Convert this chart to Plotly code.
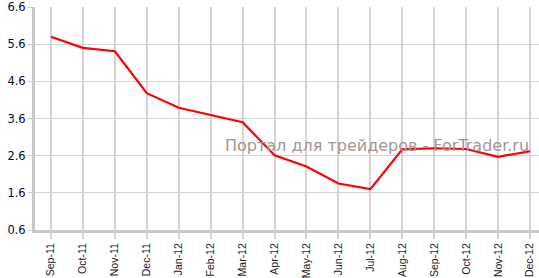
import plotly.graph_objects as go

months = ["Sep-11", "Oct-11", "Nov-11", "Dec-11", "Jan-12", "Feb-12", "Mar-12", "Apr-12",
          "May-12", "Jun-12", "Jul-12", "Aug-12", "Sep-12", "Oct-12", "Nov-12", "Dec-12"]
values = [5.80, 5.50, 5.41, 4.28, 3.89, 3.70, 3.50, 2.61,
          2.31, 1.85, 1.70, 2.77, 2.80, 2.78, 2.57, 2.72]
y_ticks = [0.6, 1.6, 2.6, 3.6, 4.6, 5.6, 6.6]
y_tick_text = ["0.6", "1.6", "2.6", "3.6", "4.6", "5.6", "6.6"]
watermark = "Портал для трейдеров - ForTrader.ru"

fig = go.Figure()
fig.add_trace(go.Scatter(x=list(range(len(months))), y=values, mode="lines",
                         line=dict(color="#ff0000", width=2.2), hoverinfo="skip"))

fig.update_layout(
    width=539, height=278,
    margin=dict(l=35, r=0, t=7, b=41),
    paper_bgcolor="white", plot_bgcolor="white",
    showlegend=False,
    xaxis=dict(
        range=[-0.5, 15.28],
        tickmode="array", tickvals=list(range(len(months))), ticktext=months,
        tickangle=-90, tickfont=dict(family="Liberation Sans, Arial", size=10.5, color="#1a1a1a"),
        showgrid=True, gridcolor="#d4d4d4", gridwidth=1.5,
        ticks="outside", ticklen=6, tickcolor="#d4d4d4", tickwidth=1.5,
        showline=True, linecolor="#c8c8c8", linewidth=3,
        zeroline=False, fixedrange=True,
    ),
    yaxis=dict(
        range=[0.6, 6.6],
        tickmode="array", tickvals=y_ticks, ticktext=y_tick_text,
        tickfont=dict(family="DejaVu Sans, Verdana", size=11.5, color="#0a0a2a"),
        showgrid=True, gridcolor="#d4d4d4", gridwidth=1,
        ticks="outside", ticklen=4, tickcolor="#c8c8c8",
        showline=True, linecolor="#c8c8c8", linewidth=3,
        zeroline=False, fixedrange=True,
    ),
    annotations=[dict(
        text=watermark, x=0.984, y=0.38, xref="paper", yref="paper",
        xanchor="right", yanchor="middle", showarrow=False,
        font=dict(family="DejaVu Sans, Verdana", size=16, color="#a39696"),
    )],
)

fig.write_html("out.html")
